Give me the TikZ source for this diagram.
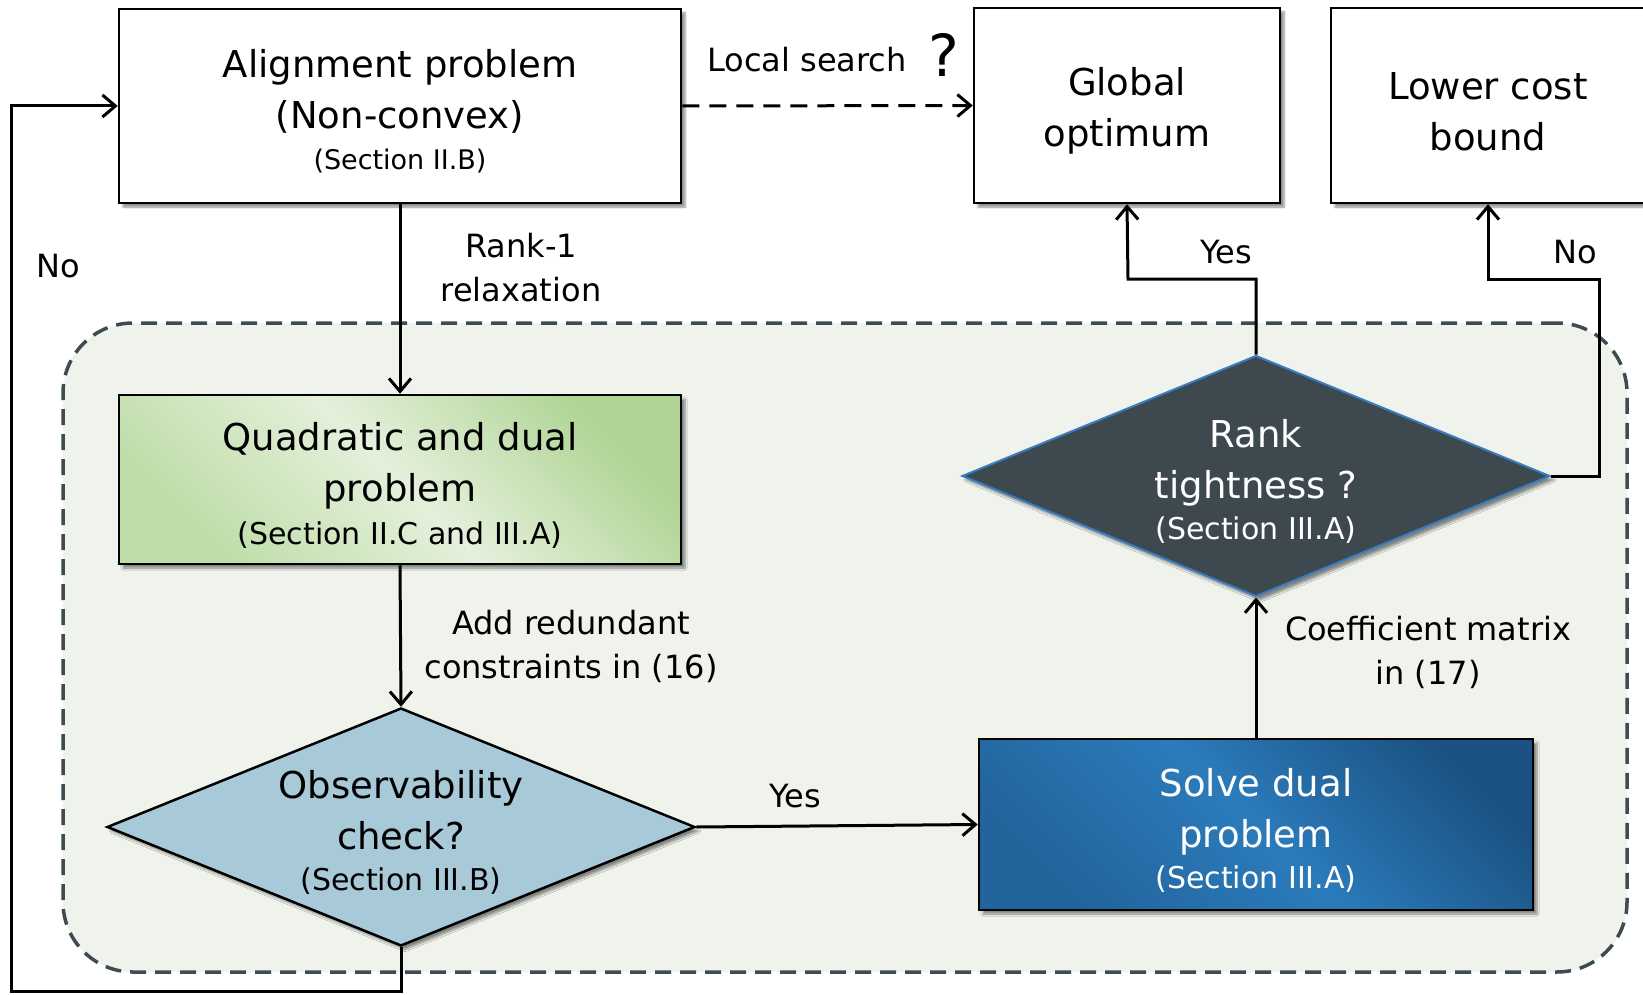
\documentclass[tikz,border=0pt]{standalone}
\usepackage{fontspec}
\setmainfont{DejaVu Sans}
\usetikzlibrary{arrows.meta,shapes.geometric,shadows.blur}

\definecolor{regionfill}{HTML}{F0F3EC}
\definecolor{regionline}{HTML}{3E4C52}
\definecolor{greenedge}{HTML}{AFD494}
\definecolor{greenlow}{HTML}{BEDDA8}
\definecolor{greenmid}{HTML}{E4F0DB}
\definecolor{obsfill}{HTML}{A8C9D8}
\definecolor{bluedark}{HTML}{1B5283}
\definecolor{bluelow}{HTML}{22649C}
\definecolor{bluemid}{HTML}{2B7BBB}
\definecolor{rankfill}{HTML}{3D494F}
\definecolor{rankedge}{HTML}{3A7CC2}

\newcommand{\bigtxt}{\fontsize{37}{51}\selectfont}
\newcommand{\sectxt}{\fontsize{27}{36}\selectfont}
\newcommand{\secbig}{\fontsize{30}{38}\selectfont}
\newcommand{\lbltxt}{\fontsize{32}{44}\selectfont}
% taller first line pushes the centred text block slightly down
\newcommand{\topstrut}{\rule{0pt}{39pt}}

\begin{document}
\begin{tikzpicture}[x=1pt,y=-1pt,
  softshadow/.style={blur shadow={shadow xshift=4pt, shadow yshift=-4pt,
      shadow blur steps=6, shadow opacity=45}},
  box/.style={draw=black, line width=2.5pt, fill=white, inner sep=0pt,
      align=center, font=\bigtxt, softshadow},
  decision/.style={diamond, shape aspect=2.45, inner sep=0pt,
      minimum width=588pt, minimum height=238pt, align=center,
      font=\bigtxt, softshadow},
  conn/.style={line width=3pt, -{Straight Barb[length=13pt,width=22pt]}},
  lbl/.style={font=\lbltxt, align=center, inner sep=0pt},
  region/.style={draw=regionline, fill=regionfill, line width=3.5pt,
      dash pattern=on 16pt off 9pt, rounded corners=70pt},
]
\useasboundingbox (0,0) rectangle (1643,995);

% grouping frame around the convex relaxation steps
\node[region, minimum width=1564pt, minimum height=649pt] (group) at (845,647.5) {};

% process boxes
\node[box, minimum width=562pt, minimum height=194pt] (align) at (400,106)
  {\topstrut Alignment problem\\(Non-convex)\\[-10pt]{\sectxt (Section II.B)}};
\node[box, minimum width=306pt, minimum height=195pt] (glob) at (1127,105.5)
  {\topstrut Global\\optimum};
\node[box, minimum width=314pt, minimum height=195pt] (lower) at (1488,105.5)
  {\topstrut Lower cost\\bound};
\node[box, minimum width=562pt, minimum height=169pt,
      left color=greenlow, right color=greenedge, middle color=greenmid,
      shading angle=135] (quad) at (400,479.5)
  {\topstrut Quadratic and dual\\problem\\[-8pt]{\secbig (Section II.C and III.A)}};
\node[box, minimum width=554pt, minimum height=171pt, text=white,
      left color=bluelow, right color=bluedark, middle color=bluemid,
      shading angle=135] (solve) at (1256,824.5)
  {\topstrut Solve dual\\problem\\[-10pt]{\secbig (Section III.A)}};

% decisions
\node[decision, draw=black, line width=2.5pt, fill=obsfill] (obs) at (401,827)
  {\topstrut Observability\\check?\\[-10pt]{\secbig (Section III.B)}};
\node[decision, draw=rankedge, line width=2pt, fill=rankfill, text=white,
      minimum height=241pt] (rank) at (1256,476)
  {\topstrut Rank\\tightness ?\\[-10pt]{\secbig (Section III.A)}};

% turning points of the routed connectors
\coordinate (yesup) at (1128,279);
\coordinate (noright) at (1599,279);
\coordinate (loopcorner) at (11,991);

% connectors
\draw[conn, dash pattern=on 17pt off 10pt] (align.east) -- (glob.west);
\draw[conn] (align.south) -- (quad.north);
\draw[conn] (quad.south) -- (obs.north);
\draw[conn] (obs.east) -- (solve.west);
\draw[conn] (solve.north) -- (rank.south);
\draw[conn] (rank.north) |- (yesup) -- (glob.south);
\draw[conn] (rank.east) -| (noright) -| (lower.south);
\draw[conn] (obs.south) |- (loopcorner) |- (align.west);

% connector labels
\node[lbl] (lsearch) at (807,60) {Local search};
\node[font=\fontsize{58}{60}\selectfont, inner sep=0pt] (qmark) at (944,55) {?};
\node[lbl] (nofeed) at (58,266) {No};
\node[lbl] (relax) at (521,268) {Rank-1\\relaxation};
\node[lbl] (yestop) at (1226,252) {Yes};
\node[lbl] (notop) at (1575,252) {No};
\node[lbl] (redund) at (571,646) {Add redundant\\constraints in (16)};
\node[lbl] (yesobs) at (795,796) {Yes};
\node[lbl] (coeff) at (1428,652) {Coefficient matrix\\in (17)};
\end{tikzpicture}
\end{document}
